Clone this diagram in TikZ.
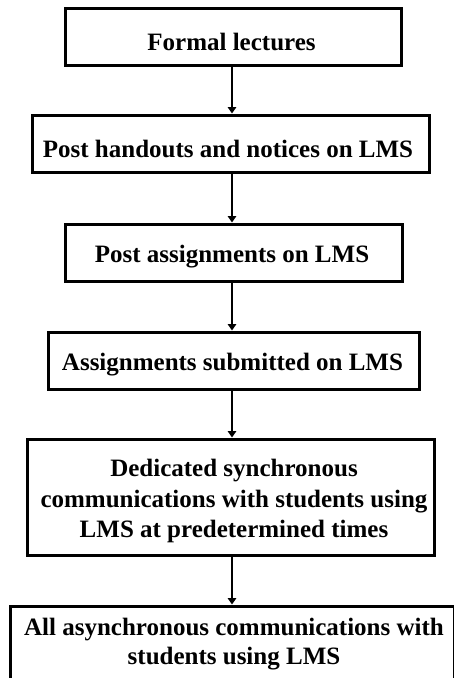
\documentclass[tikz,border=0pt]{standalone}
\usepackage{fontspec}
\setmainfont{Liberation Serif}
\usetikzlibrary{arrows.meta}
\tikzset{
  boxnode/.style={draw=black, line width=3pt, rectangle, inner sep=0pt},
  txt/.style={anchor=base, inner sep=0pt, font=\fontsize{25}{30}\selectfont\bfseries},
  arr/.style={line width=2.5pt, -{Triangle[length=6.5pt,width=8.5pt]}},
}
\begin{document}
\begin{tikzpicture}[x=1pt,y=-1pt]
\useasboundingbox (0,0) rectangle (453,678);
\fill[white] (0,0) rectangle (453,678);
% boxes
\node[boxnode, minimum width=336pt, minimum height=57pt] (n1) at (233,36.5) {};
\node[boxnode, minimum width=397pt, minimum height=57pt] (n2) at (230.5,143.5) {};
\node[boxnode, minimum width=337pt, minimum height=57pt] (n3) at (233.5,252.5) {};
\node[boxnode, minimum width=371pt, minimum height=57pt] (n4) at (233.5,360.5) {};
\node[boxnode, minimum width=407pt, minimum height=116pt] (n5) at (230.5,497) {};
\node[boxnode, minimum width=444pt, minimum height=94pt] (n6) at (232,653) {};
% texts
\node[txt] (t1) at (231.5,50) {Formal lectures};
\node[txt] (t2) at (228,157.5) {Post handouts and notices on LMS};
\node[txt] (t3) at (232,262) {Post assignments on LMS};
\node[txt] (t4) at (232.5,370) {Assignments submitted on LMS};
\node[txt] (t5a) at (234,476) {Dedicated synchronous};
\node[txt] (t5b) at (234,507) {communications with students using};
\node[txt] (t5c) at (234,537) {LMS at predetermined times};
\node[txt] (t6a) at (234,635) {All asynchronous communications with};
\node[txt] (t6b) at (234,664) {students using LMS};
% arrows
\coordinate (ax) at (232,0);
\draw[arr] (n1.south -| ax) -- (n2.north -| ax);
\draw[arr] (n2.south -| ax) -- (n3.north -| ax);
\draw[arr] (n3.south -| ax) -- (n4.north -| ax);
\draw[arr] (n4.south -| ax) -- (n5.north -| ax);
\draw[arr] (n5.south -| ax) -- (n6.north -| ax);
\end{tikzpicture}
\end{document}
